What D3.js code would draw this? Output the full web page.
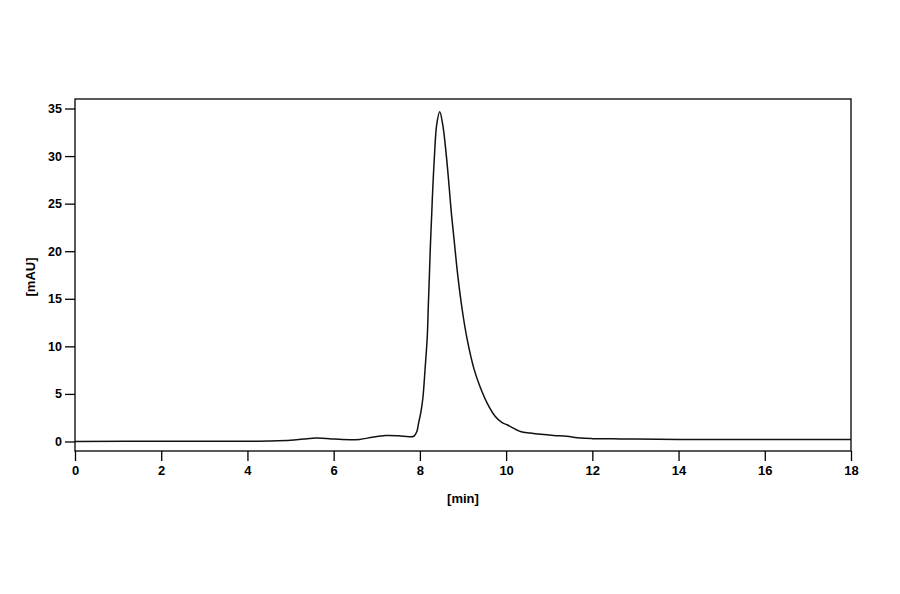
<!DOCTYPE html>
<html>
<head>
<meta charset="utf-8">
<script src="https://cdn.jsdelivr.net/npm/d3@7"></script>
<style>
  body { margin: 0; background: #fff; }
  text { font-family: "Liberation Sans", Arial, sans-serif; font-weight: bold; }
</style>
</head>
<body>
<svg id="plot" width="900" height="594"></svg>
<script>
// chromatogram trace
let time = [0, 2, 4, 4.5, 5.0, 5.3, 5.6, 5.9, 6.2, 6.6, 6.9, 7.2, 7.5, 7.75, 7.86, 7.93, 7.97, 8.02, 8.07, 8.12,
  8.17, 8.195, 8.22, 8.245, 8.275, 8.30, 8.34, 8.39, 8.46, 8.53, 8.61, 8.68, 8.73, 8.80, 8.88, 8.98,
  9.09, 9.26, 9.40, 9.56, 9.75, 9.90, 10.02, 10.33, 10.56, 11.1, 11.4, 11.72, 12.0, 12.49, 13, 14, 14.6, 16, 18]
let mau = [0, 0.02, 0.03, 0.05, 0.12, 0.25, 0.36, 0.3, 0.2, 0.22, 0.45, 0.63, 0.6, 0.5, 0.55, 1.05, 1.94, 3.0, 4.6, 7.6,
  10.9, 14.2, 17.4, 20.7, 24.0, 26.7, 30.2, 33.3, 34.65, 33.3, 30.2, 26.7, 24.0, 20.9, 17.4, 13.9,
  10.9, 7.55, 5.7, 4.04, 2.63, 2.0, 1.76, 1.05, 0.88, 0.63, 0.55, 0.36, 0.3, 0.28, 0.25, 0.22, 0.22, 0.2, 0.2]

let x_ticks = [0, 2, 4, 6, 8, 10, 12, 14, 16, 18]
let y_ticks = [0, 5, 10, 15, 20, 25, 30, 35]
let x_title = "[min]"
let y_title = "[mAU]"

let svg = d3.select("#plot")

let margin_left = 75, margin_right = 49, margin_top = 99, margin_bottom = 143;
let plot_width = 900 - margin_left - margin_right;
let plot_height = 594 - margin_top - margin_bottom;

let x_scale = d3.scaleLinear([0, 18], [margin_left, margin_left + plot_width])
let y_scale = d3.scaleLinear([-1, 36], [margin_top + plot_height, margin_top])

let xAxis = d3.axisBottom(x_scale).tickValues(x_ticks).tickSize(10).tickPadding(5).tickSizeOuter(0)
let yAxis = d3.axisLeft(y_scale).tickValues(y_ticks).tickSize(10).tickPadding(3).tickSizeOuter(0)

// frame
svg.append("rect")
  .attr("x", margin_left)
  .attr("y", margin_top)
  .attr("width", plot_width)
  .attr("height", plot_height)
  .attr("fill", "none")
  .attr("stroke", "#000")
  .attr("stroke-width", 1.3)

let gx = svg.append("g")
  .attr("transform", `translate(0,${margin_top + plot_height})`)
  .call(xAxis)
gx.select(".domain").remove()
gx.selectAll("line").attr("stroke-width", 1.3)
gx.selectAll("text").attr("font-size", 13).attr("font-family", null)

let gy = svg.append("g")
  .attr("transform", `translate(${margin_left},0)`)
  .call(yAxis)
gy.select(".domain").remove()
gy.selectAll("line").attr("stroke-width", 1.3)
gy.selectAll("text").attr("font-size", 12.5).attr("font-family", null)

// trace
let line = d3.line()
  .x((d, i) => x_scale(time[i]))
  .y(d => y_scale(d))
  .curve(d3.curveCatmullRom.alpha(0.5))

svg.append("path")
  .datum(mau)
  .attr("d", line)
  .attr("fill", "none")
  .attr("stroke", "#111")
  .attr("stroke-width", 1.5)

svg.append("text")
  .attr("text-anchor", "middle")
  .attr("x", margin_left + plot_width / 2)
  .attr("y", 503)
  .attr("font-size", 13)
  .text(x_title)

svg.append("text")
  .attr("text-anchor", "middle")
  .attr("transform", `translate(35,${margin_top + plot_height / 2 + 2}) rotate(-90)`)
  .attr("font-size", 13)
  .text(y_title)
</script>
</body>
</html>
